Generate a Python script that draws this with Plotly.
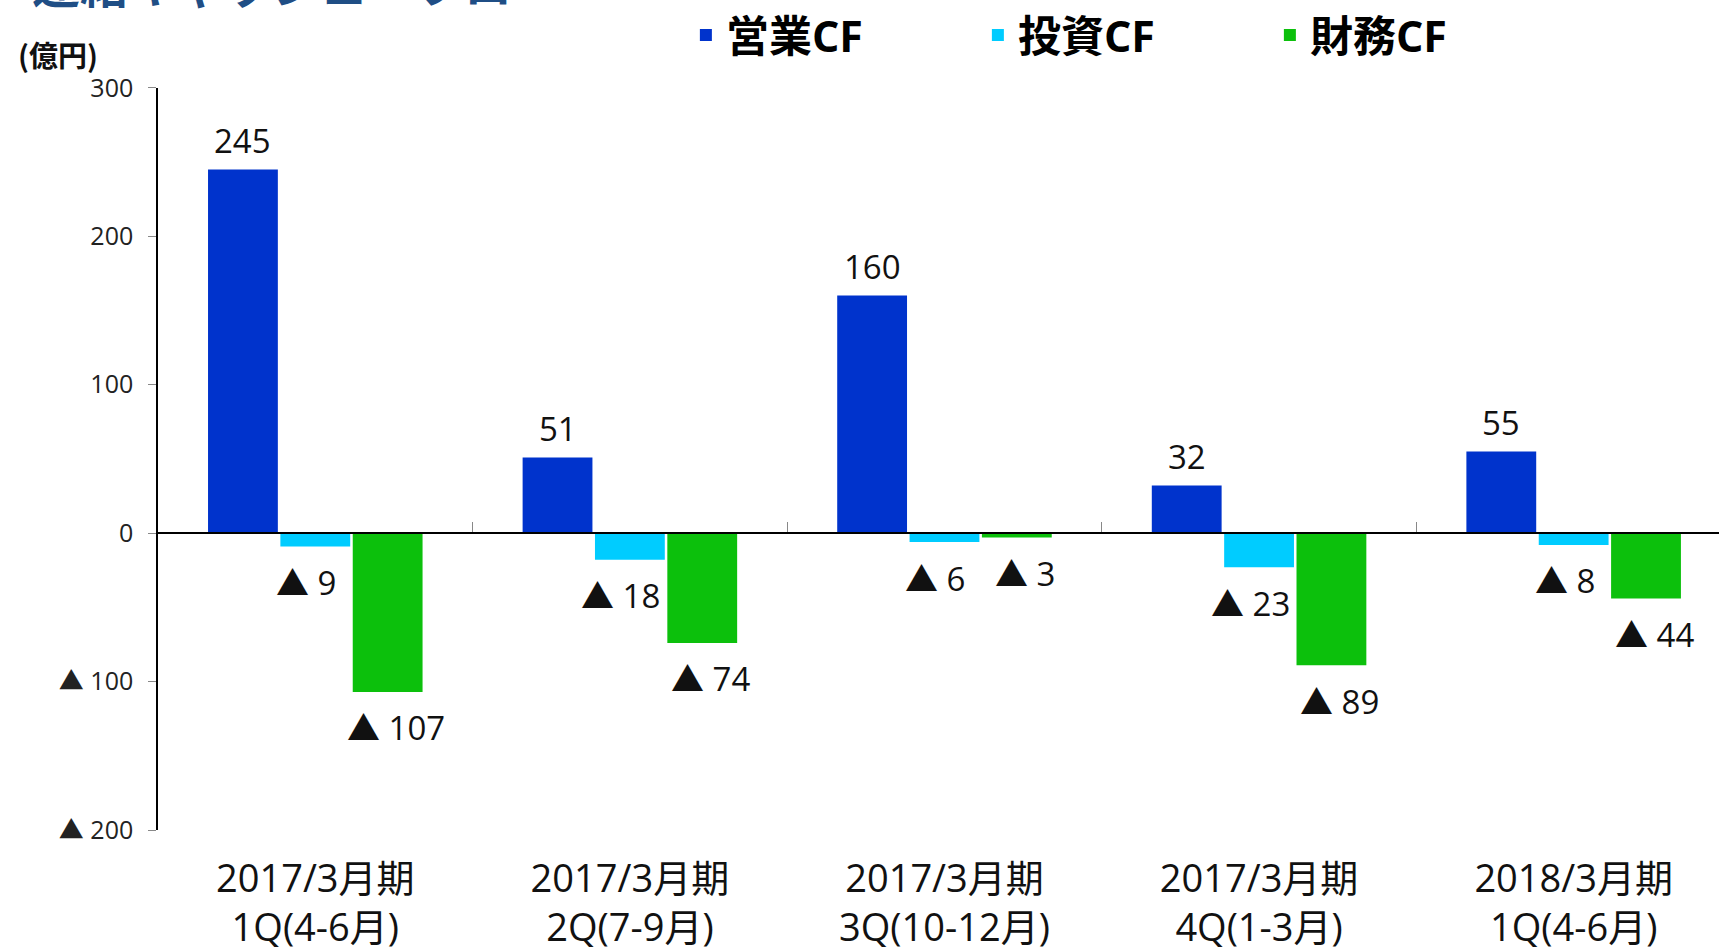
import plotly.graph_objects as go

categories = ["2017/3月期<br>1Q(4-6月)", "2017/3月期<br>2Q(7-9月)", "2017/3月期<br>3Q(10-12月)",
              "2017/3月期<br>4Q(1-3月)", "2018/3月期<br>1Q(4-6月)"]
series_names = ["営業CF", "投資CF", "財務CF"]
operating_cf = [245, 51, 160, 32, 55]
investing_cf = [-9, -18, -6, -23, -8]
financing_cf = [-107, -74, -3, -89, -44]
series_values = [operating_cf, investing_cf, financing_cf]
colors = ["#0033CC", "#00CCFF", "#0CC00C"]
y_tickvals = [300, 200, 100, 0, -100, -200]
y_ticktext = ["300", "200", "100", "0", "▲ 100", "▲ 200"]

CJK = "Noto Sans CJK JP"
MIX = "Open Sans, Noto Sans CJK JP"
BARGAP = 0.31
BARGROUPGAP = 0.035
LABEL_XSHIFT = [0, -9, 8]   # small horizontal nudges of value labels per series (px)

# plot-area geometry (px)
W, H = 1719, 952
L, R, T, B = 158, 0, 86, 120
PW, PH = W - L - R, H - T - B


def fmt(v):
    return str(v) if v >= 0 else "▲ " + str(abs(v))


fig = go.Figure()
for name, vals, col in zip(series_names, series_values, colors):
    fig.add_trace(go.Bar(x=categories, y=vals, name=name,
                         marker=dict(color=col, line=dict(width=0)), hoverinfo="skip"))

# helper trace for the zero-level category axis (line + boundary ticks)
fig.add_trace(go.Scatter(x=categories, y=[None] * len(categories), xaxis="x2", yaxis="y",
                         showlegend=False, hoverinfo="skip", mode="markers"))

annotations = []
n = len(series_names)
slot = (1 - BARGAP) / n
for si, vals in enumerate(series_values):
    for ci, v in enumerate(vals):
        annotations.append(dict(
            x=ci + (si - (n - 1) / 2) * slot, y=v, xref="x", yref="y",
            text=fmt(v), showarrow=False, yanchor="middle",
            xshift=LABEL_XSHIFT[si] if v < 0 else 0,
            yshift=29 if v >= 0 else -36,
            font=dict(family=MIX, size=33, color="#111111")))

annotations.append(dict(
    x=(16 - L) / PW, y=(H - B - 52) / PH, xref="paper", yref="paper",
    xanchor="left", yanchor="middle", text="<b>(億円)</b>", showarrow=False,
    font=dict(family=CJK, size=29, color="#111111")))
annotations.append(dict(
    x=(30 - L) / PW, y=(H - B + 20) / PH, xref="paper", yref="paper",
    xanchor="left", yanchor="middle", text="<b>連結キャッシュ・フロー</b>", showarrow=False,
    font=dict(family=CJK, size=48, color="#1F4E85")))

fig.update_layout(
    width=W, height=H,
    margin=dict(l=L, r=R, t=T, b=B),
    paper_bgcolor="white", plot_bgcolor="white",
    barmode="group", bargap=BARGAP, bargroupgap=BARGROUPGAP,
    font=dict(family=MIX, color="#111111"),
    showlegend=True,
    xaxis=dict(type="category", categoryorder="array", categoryarray=categories,
               range=[-0.5, 4.462], showline=False, showgrid=False, zeroline=False, ticks="",
               tickfont=dict(family=MIX, size=38, color="#111111"), ticklabelstandoff=23),
    xaxis2=dict(type="category", categoryorder="array", categoryarray=categories,
                range=[-0.5, 4.462], overlaying="x", anchor="free", position=0.4, side="bottom",
                showline=True, linecolor="#000000", linewidth=2, showgrid=False, zeroline=False,
                ticks="inside", tickson="boundaries", ticklen=10, tickcolor="#888888", tickwidth=1,
                showticklabels=False),
    yaxis=dict(range=[-200, 300], tickvals=y_tickvals, ticktext=y_ticktext,
               showline=True, linecolor="#000000", linewidth=1.5, showgrid=False, zeroline=False,
               ticks="outside", ticklen=8, tickcolor="#888888", tickwidth=1, ticklabelstandoff=10,
               tickfont=dict(family=MIX, size=25, color="#222222")),
    legend=dict(orientation="h", xref="container", yref="container", x=0.399, y=1 - 35 / H,
                xanchor="left", yanchor="middle", entrywidth=247, entrywidthmode="pixels",
                font=dict(family=MIX, size=43, color="#000000", weight="bold"),
                bgcolor="rgba(0,0,0,0)"),
    annotations=annotations,
)

fig.write_html("out.html")
